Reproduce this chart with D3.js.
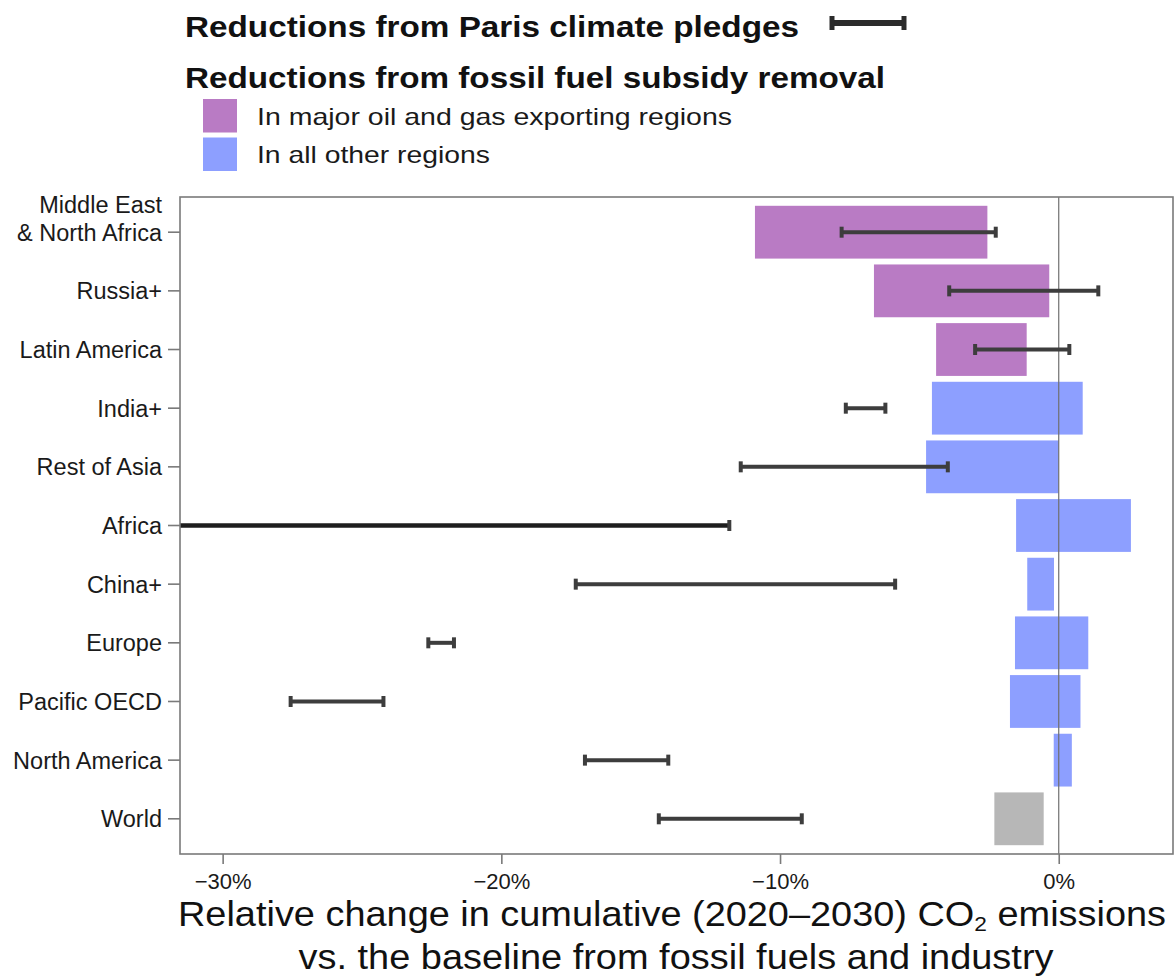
<!DOCTYPE html>
<html>
<head>
<meta charset="utf-8">
<script src="https://cdn.jsdelivr.net/npm/d3@7"></script>
<style>
  html, body { margin: 0; padding: 0; background: #fff; }
  svg { display: block; font-family: "Liberation Sans", Arial, Helvetica, sans-serif; }
</style>
</head>
<body>
<svg id="chart" width="1175" height="977"></svg>
<script>
// Regions (top to bottom) and the group that sets each bar's colour
const regions = [
  "Middle East\n& North Africa", "Russia+", "Latin America", "India+",
  "Rest of Asia", "Africa", "China+", "Europe", "Pacific OECD",
  "North America", "World"
];
const regionGroup = [
  "exporter", "exporter", "exporter", "other", "other", "other",
  "other", "other", "other", "other", "world"
];

// Range of reductions from fossil fuel subsidy removal (% change)
const subsidyLow  = [-10.90, -6.63, -4.40, -4.55, -4.76, -1.53, -1.13, -1.57, -1.75, -0.18, -2.31];
const subsidyHigh = [ -2.56, -0.34, -1.15,  0.86,  0.00,  2.59, -0.17,  1.06,  0.78,  0.47, -0.54];

// Range of reductions from Paris climate pledges (% change)
const parisLow  = [-7.79, -3.93, -3.00, -7.64, -11.41, -35.0, -17.33, -22.62, -27.56, -17.00, -14.35];
const parisHigh = [-2.26,  1.42,  0.38, -6.22,  -3.98, -11.82, -5.87, -21.70, -24.23, -14.01,  -9.22];

// Axis ticks
const xTicks = [-30, -20, -10, 0];

const groupColor = { exporter: "#b97bc4", other: "#8d9fff", world: "#b7b7b7" };

const svg = d3.select("#chart");
const plot = { left: 180, right: 1173, top: 197, bottom: 854 };

const x = d3.scaleLinear().domain([-31.53, 4.1]).range([plot.left, plot.right]);
const y = d3.scaleBand().domain(regions).range([plot.top, plot.bottom])
  .paddingInner(0.1).paddingOuter(0.15);

const rows = regions.map((r, i) => ({
  region: r, group: regionGroup[i],
  sLo: subsidyLow[i], sHi: subsidyHigh[i],
  pLo: parisLow[i], pHi: parisHigh[i]
}));

svg.append("defs").append("clipPath").attr("id", "plot-clip")
  .append("rect")
  .attr("x", plot.left).attr("y", plot.top)
  .attr("width", plot.right - plot.left).attr("height", plot.bottom - plot.top);

// Subsidy-removal bars
const g = svg.append("g").attr("clip-path", "url(#plot-clip)");
g.selectAll("rect.bar").data(rows).join("rect")
  .attr("class", "bar")
  .attr("x", d => x(d.sLo))
  .attr("width", d => x(d.sHi) - x(d.sLo))
  .attr("y", d => y(d.region))
  .attr("height", y.bandwidth())
  .attr("fill", d => groupColor[d.group]);

// Zero reference line
g.append("line")
  .attr("x1", x(0)).attr("x2", x(0))
  .attr("y1", plot.top).attr("y2", plot.bottom)
  .attr("stroke", "#6f6f6f").attr("stroke-width", 1.2);

// Paris-pledge ranges as error bars
const errColor = "#3d3d3d";
const capH = 11;
const eb = g.selectAll("g.err").data(rows).join("g").attr("class", "err");
eb.append("line")
  .attr("x1", d => x(d.pLo)).attr("x2", d => x(d.pHi))
  .attr("y1", d => y(d.region) + y.bandwidth() / 2)
  .attr("y2", d => y(d.region) + y.bandwidth() / 2)
  .attr("stroke", d => d.pLo < x.domain()[0] ? "#1e1e1e" : errColor)
  .attr("stroke-width", d => d.pLo < x.domain()[0] ? 4.5 : 4);
["pLo", "pHi"].forEach(k => {
  eb.append("line")
    .attr("x1", d => x(d[k])).attr("x2", d => x(d[k]))
    .attr("y1", d => y(d.region) + y.bandwidth() / 2 - capH / 2)
    .attr("y2", d => y(d.region) + y.bandwidth() / 2 + capH / 2)
    .attr("stroke", errColor).attr("stroke-width", 4);
});

// Panel border
svg.append("rect")
  .attr("x", plot.left).attr("y", plot.top)
  .attr("width", plot.right - plot.left).attr("height", plot.bottom - plot.top)
  .attr("fill", "none").attr("stroke", "#7a7a7a").attr("stroke-width", 1.6);

// X axis
const xAxis = svg.append("g")
  .attr("transform", `translate(0,${plot.bottom})`)
  .call(d3.axisBottom(x).tickValues(xTicks).tickSize(10).tickPadding(9)
    .tickFormat(d => (d < 0 ? "\u2212" + Math.abs(d) : d) + "%"));
xAxis.select(".domain").remove();
xAxis.selectAll(".tick line").attr("stroke", "#7a7a7a").attr("stroke-width", 1.6);
xAxis.selectAll(".tick text")
  .attr("fill", "#1a1a1a").style("font-size", "22px")
  .style("font-family", "'Liberation Sans', Arial, sans-serif");

// Y axis
const yAxis = svg.append("g")
  .attr("transform", `translate(${plot.left},0)`)
  .call(d3.axisLeft(y).tickSize(12).tickPadding(6).tickFormat(""));
yAxis.select(".domain").remove();
yAxis.selectAll(".tick line").attr("stroke", "#7a7a7a").attr("stroke-width", 1.6);
yAxis.selectAll(".tick").each(function(d) {
  const lines = d.split("\n");
  const t = d3.select(this).append("text")
    .attr("x", -18).attr("text-anchor", "end")
    .attr("fill", "#1a1a1a")
    .style("font-size", "23.5px");
  const lh = 28;
  lines.forEach((ln, i) => {
    t.append("tspan").attr("x", -18)
      .attr("y", 8.5 - (lines.length - 1 - i) * lh)
      .text(ln);
  });
});

// X axis title with subscript
const xt = svg.append("text")
  .attr("x", 672).attr("y", 926)
  .attr("text-anchor", "middle")
  .attr("fill", "#111")
  .style("font-size", "35px")
  .attr("textLength", 988).attr("lengthAdjust", "spacingAndGlyphs");
xt.append("tspan").text("Relative change in cumulative (2020\u20132030) CO");
xt.append("tspan").attr("dy", 5).style("font-size", "21px").text("2");
xt.append("tspan").attr("dy", -5).text(" emissions");
svg.append("text")
  .attr("x", 676).attr("y", 969)
  .attr("text-anchor", "middle")
  .attr("fill", "#111")
  .style("font-size", "35px")
  .attr("textLength", 755).attr("lengthAdjust", "spacingAndGlyphs")
  .text("vs. the baseline from fossil fuels and industry");

// Legend
const legend = svg.append("g");
legend.append("text")
  .attr("x", 185).attr("y", 37)
  .attr("fill", "#111").style("font-size", "29px").style("font-weight", "bold")
  .attr("textLength", 614).attr("lengthAdjust", "spacingAndGlyphs")
  .text("Reductions from Paris climate pledges");
const lg = legend.append("g").attr("transform", "translate(832,23)");
lg.append("line").attr("x1", 0).attr("x2", 72).attr("y1", 0).attr("y2", 0)
  .attr("stroke", "#2b2b2b").attr("stroke-width", 6);
[0, 72].forEach(px => lg.append("line")
  .attr("x1", px).attr("x2", px).attr("y1", -7).attr("y2", 7)
  .attr("stroke", "#2b2b2b").attr("stroke-width", 5));

legend.append("text")
  .attr("x", 185).attr("y", 88)
  .attr("fill", "#111").style("font-size", "29px").style("font-weight", "bold")
  .attr("textLength", 700).attr("lengthAdjust", "spacingAndGlyphs")
  .text("Reductions from fossil fuel subsidy removal");

const legendItems = [
  { label: "In major oil and gas exporting regions", group: "exporter", w: 475 },
  { label: "In all other regions", group: "other", w: 233 }
];
legendItems.forEach((it, i) => {
  const top = 99 + i * 38.5;
  legend.append("rect")
    .attr("x", 203).attr("y", top).attr("width", 34).attr("height", 33.5)
    .attr("fill", groupColor[it.group]);
  legend.append("text")
    .attr("x", 257).attr("y", top + 25.5)
    .attr("fill", "#1a1a1a").style("font-size", "24px")
    .attr("textLength", it.w).attr("lengthAdjust", "spacingAndGlyphs")
    .text(it.label);
});
</script>
</body>
</html>
